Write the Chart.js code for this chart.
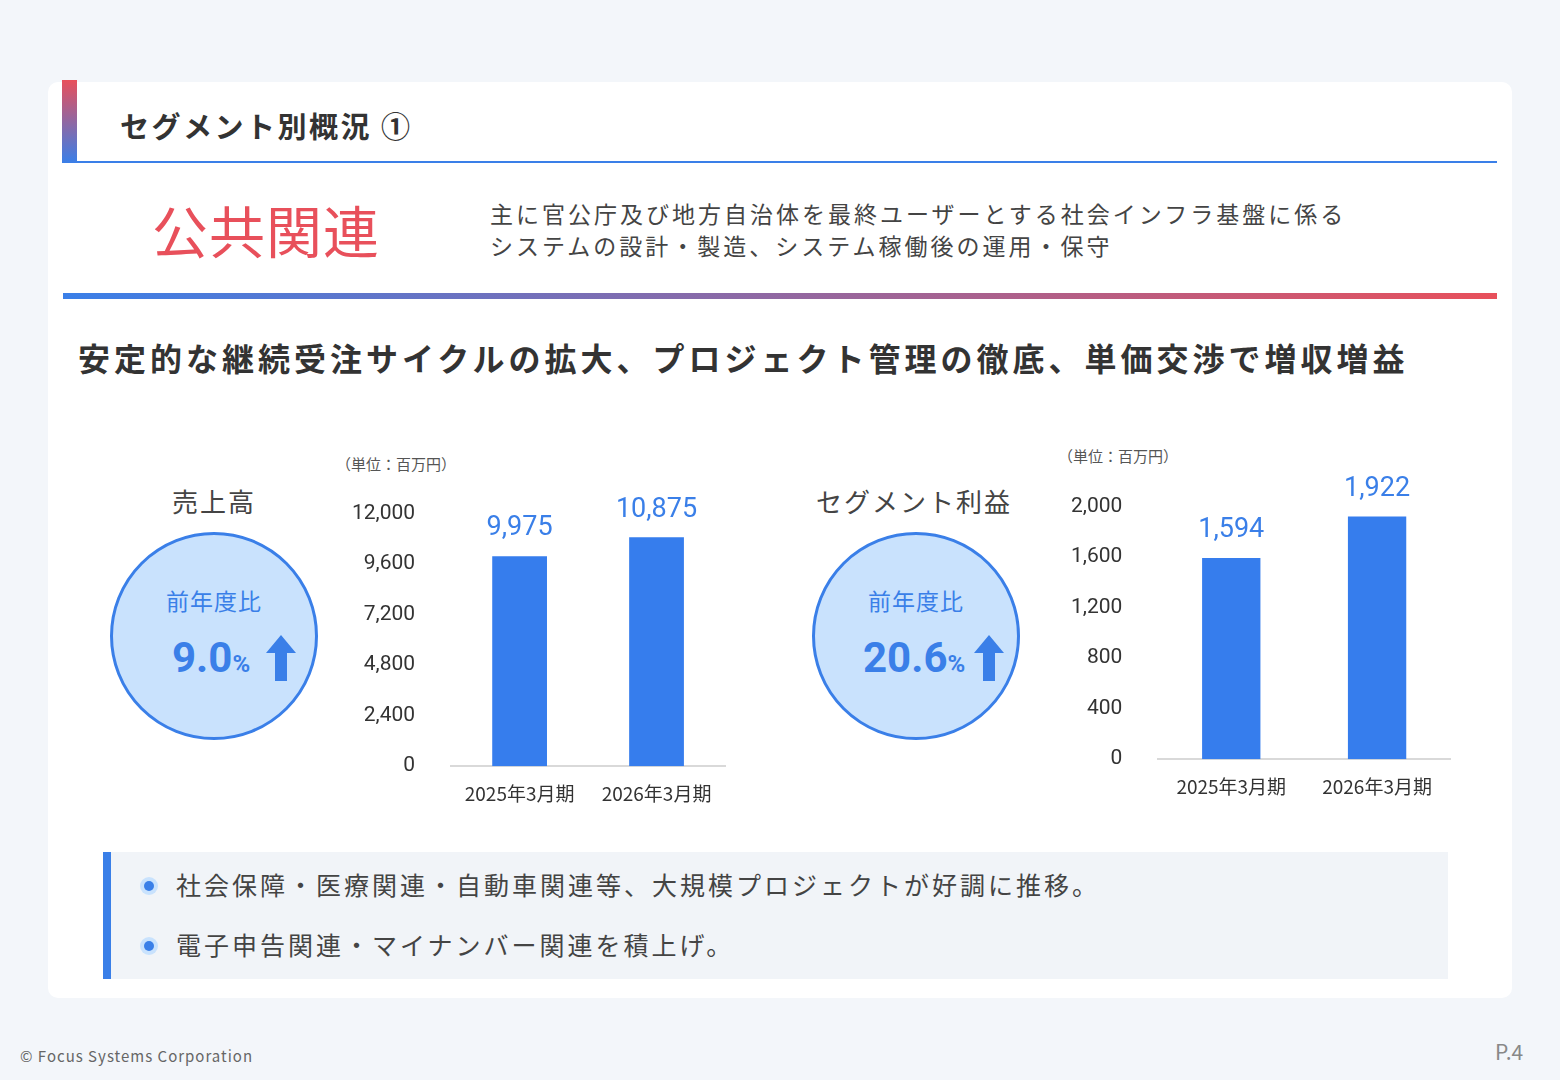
<!DOCTYPE html>
<html><head><meta charset="utf-8">
<script src="https://cdn.jsdelivr.net/npm/chart.js@4"></script>
<style>
body{margin:0;width:1560px;height:1080px;background:#f3f6fa;font-family:"Noto Sans CJK JP","Noto Sans",sans-serif;position:relative;overflow:hidden;color:#333}
.abs{position:absolute}
.card{left:48px;top:82px;width:1464px;height:916px;background:#fff;border-radius:10px}
.circle{width:202px;height:202px;border-radius:50%;background:#c9e2fd;border:3px solid #3a7fe8;text-align:center;color:#3a7fe8}
.pct{position:absolute;top:98px;font-size:42px;font-weight:bold;font-family:Roboto,sans-serif;white-space:nowrap}
</style></head><body>
<div class="abs card"></div>
<div class="abs" style="left:62px;top:80px;width:15px;height:83px;background:linear-gradient(#e8505b,#3a7fe8)"></div>
<div class="abs" style="left:77px;top:161px;width:1420px;height:2px;background:#3a7fe8"></div>
<div class="abs" style="left:120px;top:104px;font-size:29px;font-weight:bold;color:#333;letter-spacing:2.5px">セグメント別概況 ①</div>
<div class="abs" style="left:152px;top:188px;font-size:56px;color:#e8505b;letter-spacing:1px">公共関連</div>
<div class="abs" style="left:490px;top:197px;font-size:23px;line-height:32px;color:#444;letter-spacing:3px">主に官公庁及び地方自治体を最終ユーザーとする社会インフラ基盤に係る<br>システムの設計・製造、システム稼働後の運用・保守</div>
<div class="abs" style="left:63px;top:293px;width:1434px;height:6px;background:linear-gradient(90deg,#3a7fe8,#e8505b)"></div>
<div class="abs" style="left:78px;top:334px;font-size:32px;font-weight:bold;color:#333;letter-spacing:4px">安定的な継続受注サイクルの拡大、プロジェクト管理の徹底、単価交渉で増収増益</div>

<div class="abs" style="left:172px;top:482px;font-size:26px;color:#444;letter-spacing:2px">売上高</div>
<div class="abs circle" style="left:110px;top:532px"><div style="margin-top:48px;font-size:23px;letter-spacing:1px">前年度比</div>
<div class="pct" style="left:59px">9.0<span style="font-size:24px">%</span></div>
<svg class="abs" style="left:153px;top:100px" width="30" height="46"><polygon points="15,0 30,18 21,18 21,46 9,46 9,18 0,18" fill="#3a7fe8"/></svg></div>
<div class="abs" style="left:816px;top:482px;font-size:26px;color:#444;letter-spacing:2px">セグメント利益</div>
<div class="abs circle" style="left:812px;top:532px"><div style="margin-top:48px;font-size:23px;letter-spacing:1px">前年度比</div>
<div class="pct" style="left:48px">20.6<span style="font-size:24px">%</span></div>
<svg class="abs" style="left:159px;top:100px" width="30" height="46"><polygon points="15,0 30,18 21,18 21,46 9,46 9,18 0,18" fill="#3a7fe8"/></svg></div>
<div class="abs" style="left:336px;top:453px;font-size:15px;color:#555">（単位：百万円）</div>
<div class="abs" style="left:1058px;top:445px;font-size:15px;color:#555">（単位：百万円）</div>

<div class="abs" style="left:324px;top:473px;width:406px;height:340px"><canvas id="c1"></canvas></div>
<div class="abs" style="left:1043px;top:466px;width:417px;height:340px"><canvas id="c2"></canvas></div>

<div class="abs" style="left:103px;top:852px;width:1337px;height:127px;background:#f1f4f8;border-left:8px solid #3a7fe8"></div>
<div class="abs" style="left:140px;top:854px;font-size:25px;line-height:60px;color:#444;letter-spacing:3px">
<div><span style="display:inline-block;width:10px;height:10px;border-radius:50%;background:#3a7fe8;box-shadow:0 0 0 4px #c9e2fd;margin:0 22px 4px 4px"></span>社会保障・医療関連・自動車関連等、大規模プロジェクトが好調に推移。</div>
<div><span style="display:inline-block;width:10px;height:10px;border-radius:50%;background:#3a7fe8;box-shadow:0 0 0 4px #c9e2fd;margin:0 22px 4px 4px"></span>電子申告関連・マイナンバー関連を積上げ。</div>
</div>
<div class="abs" style="left:20px;top:1045px;font-size:15px;color:#666;letter-spacing:1px">© Focus Systems Corporation</div>
<div class="abs" style="left:1495px;top:1036px;font-size:21px;color:#888">P.4</div>

<script>
const categories=["2025年3月期","2026年3月期"];
const salesValues=[9975,10875];
const profitValues=[1594,1922];
const salesTicks=[0,2400,4800,7200,9600,12000];
const profitTicks=[0,400,800,1200,1600,2000];
const blue="#367ded";
const labelPlugin={id:"lbl",afterDatasetsDraw(ch){const ctx=ch.ctx;ctx.save();ctx.fillStyle="#3a7fe8";ctx.font="27px Roboto, sans-serif";ctx.textAlign="center";ctx.textBaseline="bottom";
ch.getDatasetMeta(0).data.forEach((b,i)=>{ctx.fillText(ch.data.datasets[0].data[i].toLocaleString("en-US"),b.x,b.y-14)});ctx.restore();}};
function make(id,vals,ticks,max,pad,tp){
new Chart(document.getElementById(id),{type:"bar",data:{labels:categories,datasets:[{data:vals,backgroundColor:blue,barPercentage:0.4,categoryPercentage:1}]},
plugins:[labelPlugin],
options:{responsive:true,maintainAspectRatio:false,animation:false,layout:{padding:pad},
plugins:{legend:{display:false},tooltip:{enabled:false}},
scales:{x:{grid:{display:false},border:{color:"#d9d9d9",width:2},ticks:{color:"#333",font:{size:19,family:"Noto Sans CJK JP"},padding:8}},
y:{min:0,max:max,afterBuildTicks:a=>{a.ticks=ticks.map(v=>({value:v}))},grid:{display:false},border:{display:false},ticks:{color:"#333",font:{size:21,family:"Roboto"},padding:tp,callback:v=>v.toLocaleString("en-US")}}}}});}
make("c1",salesValues,salesTicks,12000,{top:31,right:5},28);
make("c2",profitValues,profitTicks,2000,{top:32,right:10},28);
</script>
</body></html>
